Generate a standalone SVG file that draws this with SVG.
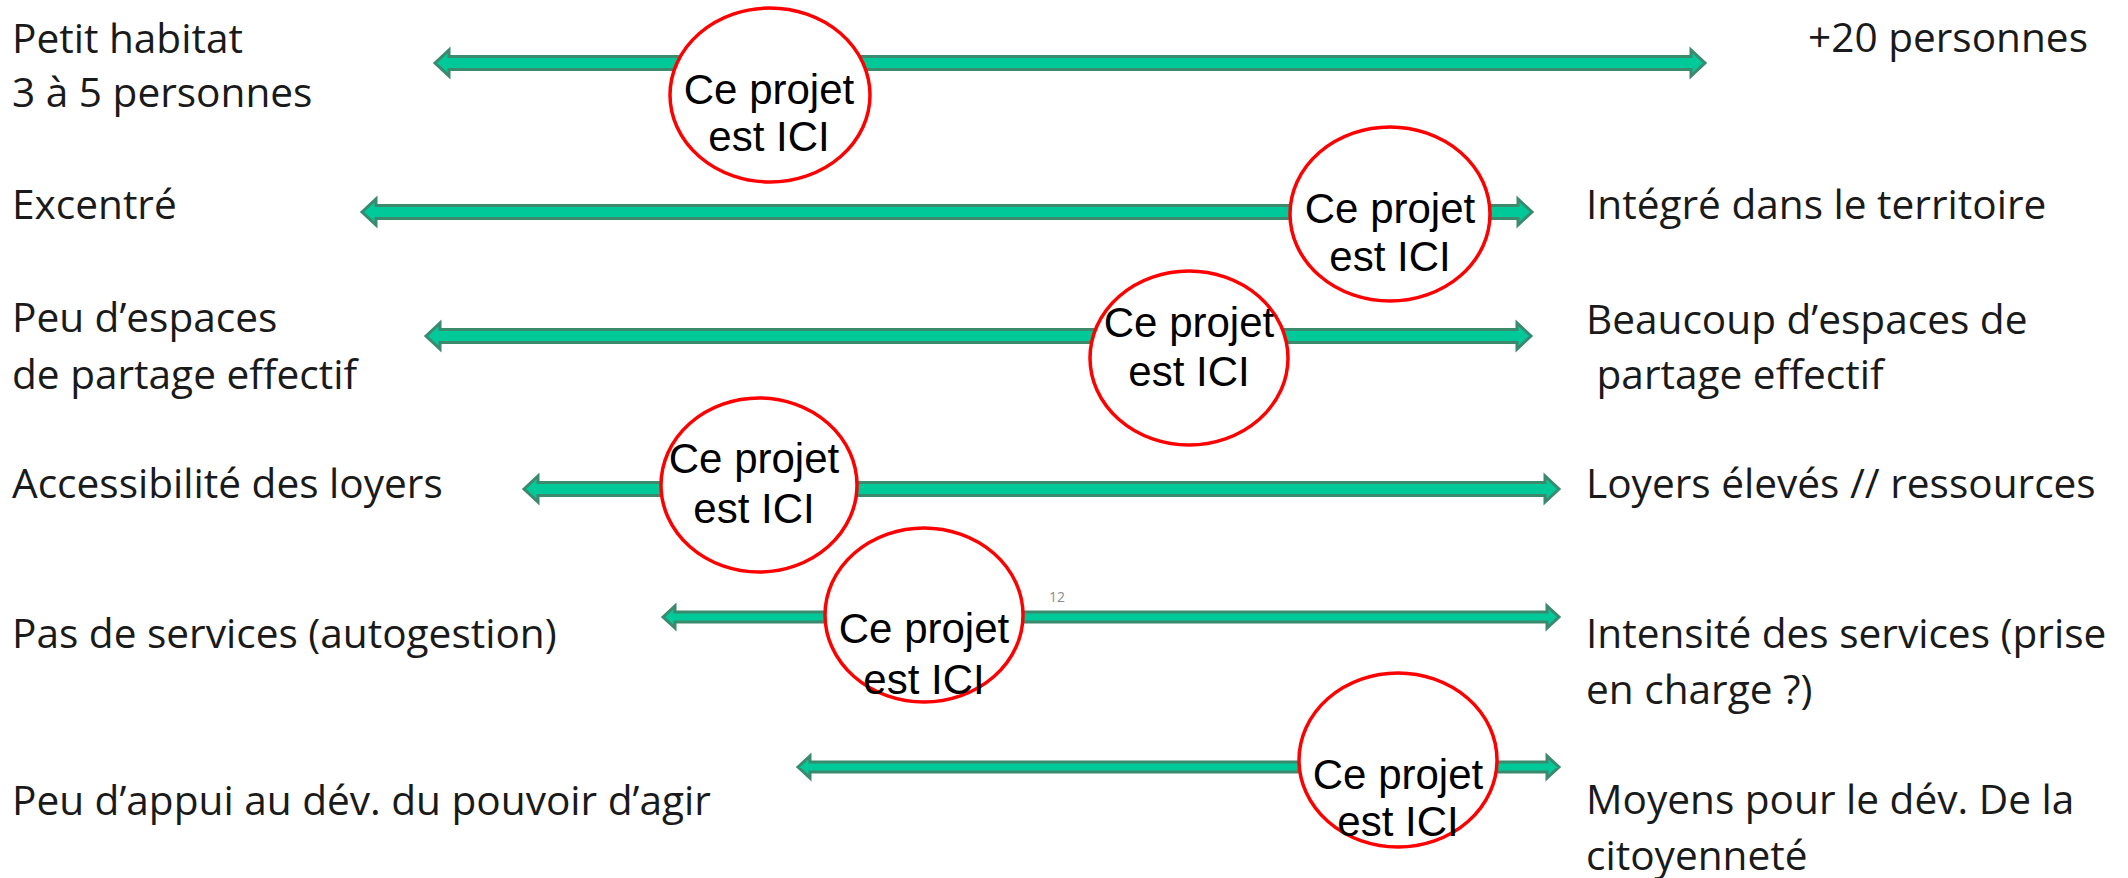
<svg xmlns="http://www.w3.org/2000/svg" width="2128" height="878" viewBox="0 0 2128 878">
<style>
.lbl{font-family:"Open Sans","Noto Sans",sans-serif;font-size:40.6px;fill:#1a1a1a}
.ici{font-family:"Liberation Sans",Arial,sans-serif;font-size:42px;fill:#000;text-anchor:middle}
.mark{fill:#fff;stroke:#f00;stroke-width:3.5}
.arr{fill:#00C999;stroke:#3B8A6E;stroke-width:3;stroke-linejoin:miter}
.pg{font-family:"Open Sans",sans-serif;font-size:14px;fill:#8c8c8c}
</style>
<rect width="2128" height="878" fill="#fff"/>
<g id="connectors">
<path class="arr" d="M435,63 L449,50 L449,56.5 L1691,56.5 L1691,50 L1705,63 L1691,76 L1691,69.5 L449,69.5 L449,76 Z"/>
<path class="arr" d="M362,212 L376,199 L376,205.5 L1518,205.5 L1518,199 L1532,212 L1518,225 L1518,218.5 L376,218.5 L376,225 Z"/>
<path class="arr" d="M426,336 L440,323 L440,329.5 L1517,329.5 L1517,323 L1531,336 L1517,349 L1517,342.5 L440,342.5 L440,349 Z"/>
<path class="arr" d="M524,489 L538,476 L538,482.5 L1545,482.5 L1545,476 L1559,489 L1545,502 L1545,495.5 L538,495.5 L538,502 Z"/>
<path class="arr" d="M663,617 L675,606 L675,612 L1547,612 L1547,606 L1559,617 L1547,628 L1547,622 L675,622 L675,628 Z"/>
<path class="arr" d="M798,767 L810,756 L810,762 L1547,762 L1547,756 L1559,767 L1547,778 L1547,772 L810,772 L810,778 Z"/>
</g>
<g id="label-left-1"><text class="lbl" x="12" y="53">Petit habitat</text><text class="lbl" x="12" y="107">3 à 5 personnes</text></g>
<g id="label-right-1"><text class="lbl" x="1808" y="52">+20 personnes</text></g>
<g id="label-left-2"><text class="lbl" x="12" y="219">Excentré</text></g>
<g id="label-right-2"><text class="lbl" x="1586" y="219">Intégré dans le territoire</text></g>
<g id="label-left-3"><text class="lbl" x="12" y="332">Peu d’espaces</text><text class="lbl" x="12" y="389">de partage effectif</text></g>
<g id="label-right-3"><text class="lbl" x="1586" y="334">Beaucoup d’espaces de</text><text class="lbl" x="1586" y="389" xml:space="preserve"> partage effectif</text></g>
<g id="label-left-4"><text class="lbl" x="12" y="498">Accessibilité des loyers</text></g>
<g id="label-right-4"><text class="lbl" x="1586" y="498">Loyers élevés // ressources</text></g>
<g id="label-left-5"><text class="lbl" x="12" y="648">Pas de services (autogestion)</text></g>
<g id="label-right-5"><text class="lbl" x="1586" y="648">Intensité des services (prise</text><text class="lbl" x="1586" y="704">en charge ?)</text></g>
<g id="label-left-6"><text class="lbl" x="12" y="815">Peu d’appui au dév. du pouvoir d’agir</text></g>
<g id="label-right-6"><text class="lbl" x="1586" y="814">Moyens pour le dév. De la</text><text class="lbl" x="1586" y="870">citoyenneté</text></g>
<g id="page-number"><text class="pg" x="1049" y="602">12</text></g>
<g id="marker-1"><ellipse class="mark" cx="770" cy="95" rx="100" ry="87"/><text class="ici" x="769" y="104">Ce projet</text><text class="ici" x="769" y="151">est ICI</text></g>
<g id="marker-2"><ellipse class="mark" cx="1390" cy="214" rx="100" ry="87"/><text class="ici" x="1390" y="223">Ce projet</text><text class="ici" x="1390" y="271">est ICI</text></g>
<g id="marker-3"><ellipse class="mark" cx="1189" cy="358" rx="99" ry="87"/><text class="ici" x="1189" y="337">Ce projet</text><text class="ici" x="1189" y="386">est ICI</text></g>
<g id="marker-4"><ellipse class="mark" cx="759" cy="485" rx="98" ry="87"/><text class="ici" x="754" y="473">Ce projet</text><text class="ici" x="754" y="523">est ICI</text></g>
<g id="marker-5"><ellipse class="mark" cx="924" cy="615" rx="99" ry="87"/><text class="ici" x="924" y="643">Ce projet</text><text class="ici" x="924" y="694">est ICI</text></g>
<g id="marker-6"><ellipse class="mark" cx="1398" cy="760" rx="99" ry="87"/><text class="ici" x="1398" y="789">Ce projet</text><text class="ici" x="1398" y="836">est ICI</text></g>
</svg>
